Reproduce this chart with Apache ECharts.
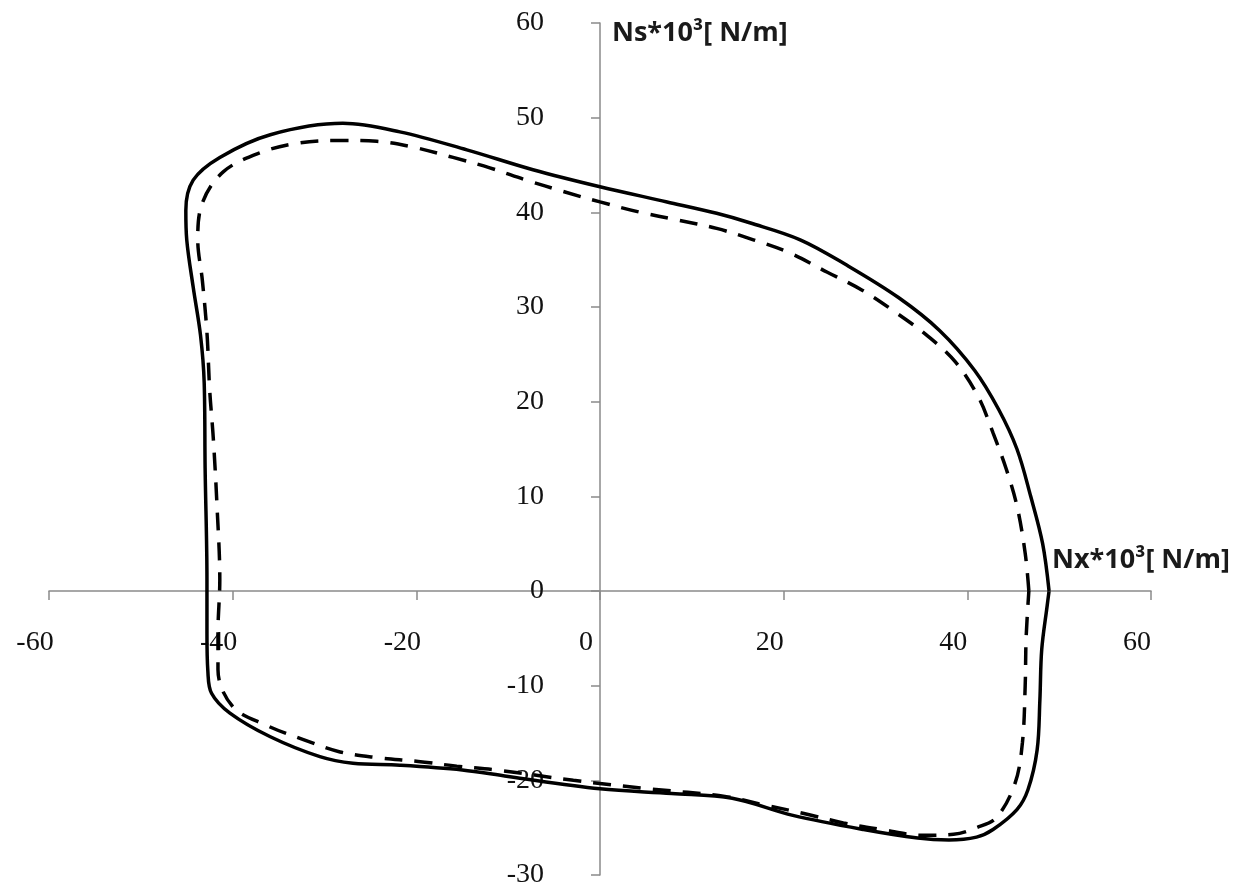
<!DOCTYPE html>
<html>
<head>
<meta charset="utf-8">
<title>Nx – Ns</title>
<script src="https://cdn.jsdelivr.net/npm/echarts@6/dist/echarts.min.js"></script>
<style>
  html, body { margin: 0; padding: 0; background: #ffffff; }
  #chart { width: 1254px; height: 889px; }
</style>
</head>
<body>
<div id="chart"></div>
<script>
// Solid curve: Nx*10^3 and Ns*10^3 [N/m], traced clockwise from the right cusp
const solidNx = [48.9, 48.2, 46.9, 45.4, 43.4, 40.8, 37.0, 32.5, 26.9, 21.8, 16.3, 12.7, 7.3, 0, -7.3, -14.5, -21.8, -28.0, -35.9, -41.4, -44.3, -45.1, -45.0, -44.3, -43.5, -43.1, -43.0, -42.8, -42.8, -42.7, -42.3, -40.3, -35.9, -30.5, -26.9, -21.8, -15.0, -10.0, 0, 7.8, 14.4, 21.0, 28.7, 34.6, 38.0, 41.0, 42.8, 45.4, 46.6, 47.6, 47.9, 48.1, 48.7, 48.9];
const solidNs = [0, 5.0, 10.0, 15.0, 19.2, 23.3, 27.5, 31.0, 34.4, 37.1, 38.9, 39.9, 41.1, 42.7, 44.5, 46.6, 48.5, 49.4, 48.2, 45.8, 43.4, 40.2, 37.1, 32.1, 27.0, 22.0, 13.0, 1.2, -4.4, -8.5, -10.8, -12.9, -15.4, -17.5, -18.2, -18.4, -18.9, -19.6, -20.9, -21.4, -21.9, -23.7, -25.2, -26.1, -26.3, -26.0, -25.2, -23.1, -21.0, -16.8, -11.5, -6.2, -1.5, 0];

// Dashed curve, same orientation
const dashedNx = [46.7, 46.3, 45.4, 44.2, 42.8, 41.2, 38.7, 35.6, 32.1, 28.5, 24.7, 20.7, 16.7, 12.7, 8.4, 4.4, 0, -4.0, -8.0, -12.0, -16.0, -20.4, -24.3, -28.6, -33.0, -37.0, -41.0, -43.3, -43.8, -43.3, -42.8, -42.5, -42.1, -41.7, -41.4, -41.6, -41.6, -40.0, -36.3, -32.3, -28.3, -24.3, -19.8, -15.6, -11.3, -2.9, 5.4, 13.6, 17.9, 22.2, 26.5, 30.7, 35.0, 38.5, 41.0, 43.2, 45.2, 46.0, 46.3, 46.4, 46.7];
const dashedNs = [0, 4.0, 9.0, 13.0, 16.7, 20.5, 24.2, 27.0, 29.5, 31.8, 33.7, 35.7, 37.1, 38.3, 39.2, 40.0, 41.1, 42.2, 43.4, 44.7, 45.8, 46.9, 47.5, 47.6, 47.3, 46.3, 44.3, 41.0, 37.1, 32.8, 27.3, 21.2, 16.0, 8.9, 1.2, -4.4, -8.3, -12.2, -14.2, -15.7, -17.0, -17.6, -18.0, -18.5, -18.9, -20.0, -20.9, -21.7, -22.6, -23.5, -24.5, -25.2, -25.8, -25.7, -25.0, -23.9, -20.3, -16.0, -10.0, -5.0, 0];

// Axis ranges and tick steps
const xRange = [-60, 60], xStep = 20;
const yRange = [-30, 60], yStep = 10;
const xName = 'Nx*10³[ N/m]';
const yName = 'Ns*10³[ N/m]';

const zip = (xs, ys) => xs.map((x, i) => [x, ys[i]]);

const axisGray = '#8a8a8a';
const tickFont = { fontFamily: 'Liberation Serif', fontSize: 28, color: '#111111' };
const nameFont = { fontFamily: 'Open Sans', fontSize: 27, fontWeight: 'bold', fill: '#1a1a1a' };

const grid = { left: 49, right: 103, top: 23, bottom: 14, containLabel: false, outerBoundsMode: 'none' };

const chart = echarts.init(document.getElementById('chart'), null, { renderer: 'canvas' });

chart.setOption({
  animation: false,
  backgroundColor: '#ffffff',
  grid: grid,
  xAxis: {
    type: 'value',
    position: 'bottom',
    min: xRange[0], max: xRange[1], interval: xStep,
    axisLine: { onZero: false, lineStyle: { color: axisGray, width: 1.5 } },
    axisTick: { show: true, length: 9, lineStyle: { color: axisGray, width: 1.5 } },
    splitLine: { show: false },
    axisLabel: Object.assign({ margin: 38, padding: [0, 28, 0, 0] }, tickFont)
  },
  yAxis: {
    type: 'value',
    position: 'left',
    min: yRange[0], max: yRange[1], interval: yStep,
    axisLine: { onZero: false, lineStyle: { color: axisGray, width: 1.5 } },
    axisTick: { show: true, length: 9, lineStyle: { color: axisGray, width: 1.5 } },
    splitLine: { show: false },
    axisLabel: Object.assign({ margin: 56 }, tickFont)
  },
  graphic: [
    { type: 'text', left: 612, top: 20, style: Object.assign({ text: yName }, nameFont) },
    { type: 'text', left: 1052, top: 547, style: Object.assign({ text: xName }, nameFont) }
  ],
  series: [
    {
      type: 'line',
      data: zip(solidNx, solidNs),
      smooth: 0.35,
      symbol: 'none',
      lineStyle: { color: '#000000', width: 3.5 }
    },
    {
      type: 'line',
      data: zip(dashedNx, dashedNs),
      smooth: 0.35,
      symbol: 'none',
      lineStyle: { color: '#000000', width: 3.5, type: [18, 12] }
    }
  ]
});

// Move both axes (line, ticks and labels together) so they cross at the origin
const origin = chart.convertToPixel({ gridIndex: 0 }, [0, 0]);
const corner = chart.convertToPixel({ gridIndex: 0 }, [xRange[0], yRange[0]]);
chart.setOption({
  xAxis: { offset: -(corner[1] - origin[1]) },
  yAxis: { offset: -(origin[0] - corner[0]) }
});
</script>
</body>
</html>
